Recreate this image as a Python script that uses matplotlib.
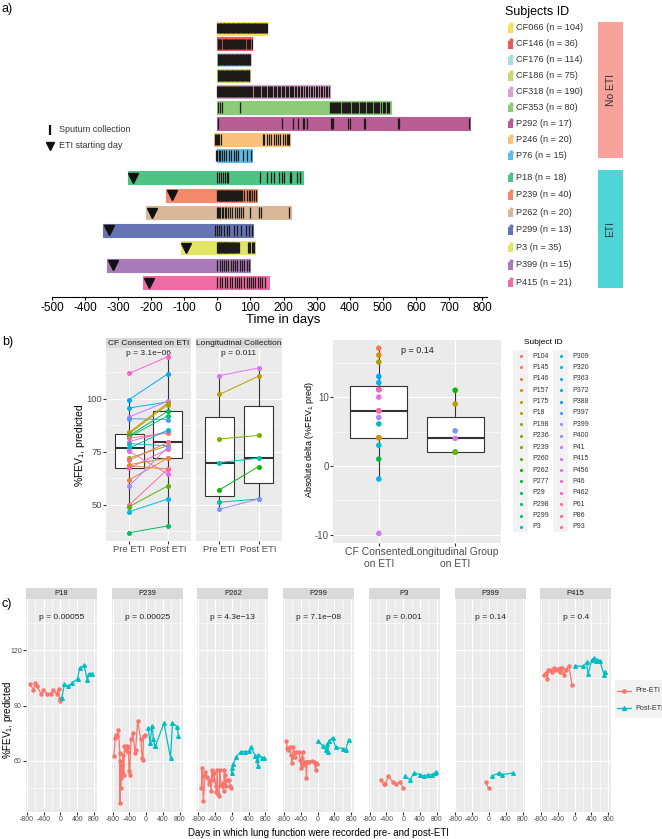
import numpy as np
import matplotlib
matplotlib.use("Agg")
import matplotlib.pyplot as plt
from matplotlib.patches import Rectangle

plt.rcParams['font.family'] = ['Liberation Sans', 'DejaVu Sans']
plt.rcParams['mathtext.fontset'] = 'custom'
plt.rcParams['mathtext.rm'] = 'Liberation Sans'
plt.rcParams['mathtext.it'] = 'Liberation Sans'
plt.rcParams['axes.unicode_minus'] = False

#---- panel a data
a_ids = ['CF066', 'CF146', 'CF176', 'CF186', 'CF318', 'CF353', 'P292', 'P246', 'P76',
         'P18', 'P239', 'P262', 'P299', 'P3', 'P399', 'P415']
a_n = [104, 36, 114, 75, 190, 80, 17, 20, 15, 18, 40, 20, 13, 35, 15, 21]
a_start = [0, 0, 0, 0, 0, 0, 0, -10, 0, -270, -155, -215, -345, -109, -333, -225]
a_end = [150, 105, 100, 98, 340, 525, 765, 220, 105, 258, 121, 221, 109, 115, 100, 155]
a_eti = [None] * 9 + [-255, -136, -197, -327, -94, -315, -206]
a_colors = ['#F3DF5A', '#E9585B', '#A9DCE0', '#C9D96B', '#D9A3D2', '#8DCB79', '#B95D95',
            '#F9C27B', '#5CBDE8', '#4DC486', '#F48A6B', '#D8B897', '#6774B4', '#E3E664',
            '#A87BB8', '#F06CA5']
a_sputum = [
    [0, 2, 4, 7, 9, 11, 14, 16, 19, 21, 24, 26, 28, 31, 33, 36, 38, 41, 43, 46, 48, 51, 53, 56, 58,
     61, 63, 66, 68, 71, 74, 76, 79, 81, 84, 86, 89, 92, 94, 97, 99, 102, 105, 107, 110, 113, 115,
     118, 121, 124, 126, 129, 132, 135, 138, 141, 144, 147, 150],
    [1, 3, 6, 9, 12, 16, 19, 22, 25, 27, 30, 33, 36, 39, 42, 45, 48, 51, 54, 57, 60, 63, 66, 69, 72,
     75, 78, 81, 84, 88, 92, 96, 100, 104],
    [1, 3, 5, 8, 10, 12, 14, 16, 19, 21, 23, 25, 27, 30, 32, 34, 36, 38, 41, 43, 45, 47, 49, 52, 54,
     56, 58, 60, 63, 65, 67, 69, 71, 74, 76, 78, 80, 82, 85, 87, 89, 91, 93, 96, 98, 99],
    [1, 3, 5, 8, 10, 13, 15, 18, 20, 23, 25, 28, 30, 33, 35, 38, 40, 43, 45, 48, 50, 53, 55, 58, 60,
     63, 65, 68, 70, 73, 75, 78, 80, 83, 85, 88, 90, 93, 95, 97],
    [0, 3, 5, 8, 11, 14, 17, 20, 22, 25, 28, 31, 34, 37, 40, 43, 46, 49, 52, 55, 58, 61, 64, 67, 70,
     74, 77, 80, 83, 86, 90, 93, 96, 99, 103, 106, 110, 113, 116, 120, 123, 127, 130, 134, 137, 141,
     144, 148, 152, 155, 159, 163, 166, 170, 174, 178, 182, 186, 190, 194, 198, 202, 206, 210, 214,
     218, 222, 226, 230, 235, 239, 244, 248, 253, 257, 262, 267, 272, 277, 282, 287, 292, 297, 302,
     307, 312, 317, 322, 327, 332, 337],
    [3, 7, 14, 68, 340, 343, 346, 349, 352, 356, 359, 362, 366, 369, 372, 376, 379, 382, 386, 389,
     392, 396, 399, 402, 406, 409, 412, 416, 419, 423, 426, 430, 433, 437, 440, 444, 447, 451, 454,
     458, 461, 465, 468, 472, 475, 479, 482, 486, 490, 494, 500, 504, 508, 512, 516, 520],
    [2, 196, 229, 243, 258, 262, 272, 342, 346, 350, 395, 401, 442, 447, 545, 550, 762],
    [-8, -5, -2, 2, 6, 10, 138, 142, 150, 156, 163, 170, 176, 184, 190, 197, 204, 210, 214, 217],
    [-4, 0, 4, 9, 13, 21, 26, 34, 42, 49, 55, 61, 78, 90, 102],
    [0, 5, 10, 16, 22, 28, 33, 130, 150, 163, 172, 185, 195, 200, 218, 222, 240, 250],
    [0, 2, 4, 6, 8, 10, 12, 14, 16, 18, 20, 22, 25, 27, 29, 31, 33, 36, 38, 40, 43, 45, 48, 50, 52,
     55, 57, 60, 62, 65, 67, 70, 75, 80, 88, 95, 100, 106, 112, 118],
    [0, 2, 4, 8, 13, 18, 22, 27, 32, 37, 44, 52, 58, 64, 72, 78, 98, 125, 133, 215],
    [-6, -1, 5, 11, 21, 29, 36, 50, 60, 70, 85, 95, 105],
    [0, 2, 4, 6, 8, 10, 12, 14, 17, 19, 21, 23, 25, 27, 29, 31, 34, 36, 38, 41, 43, 46, 48, 51, 53,
     56, 58, 61, 64, 93, 96, 99, 106, 109, 112],
    [0, 7, 14, 20, 27, 33, 40, 47, 53, 60, 67, 73, 80, 88, 97],
    [0, 8, 14, 22, 30, 37, 45, 52, 58, 65, 72, 80, 88, 95, 102, 108, 115, 122, 128, 135, 145],
]

#---- panel b data
b_subjects = ['P104', 'P145', 'P146', 'P157', 'P175', 'P18', 'P198', 'P236', 'P239', 'P260',
              'P262', 'P277', 'P29', 'P298', 'P299', 'P3', 'P309', 'P320', 'P363', 'P372',
              'P388', 'P397', 'P399', 'P400', 'P41', 'P415', 'P456', 'P46', 'P462', 'P61',
              'P86', 'P93']
cf_subj = ['P462', 'P388', 'P372', 'P41', 'P397', 'P175', 'P198', 'P277', 'P298', 'P104',
           'P46', 'P320', 'P309', 'P456', 'P236', 'P157', 'P146', 'P61', 'P145', 'P400',
           'P86', 'P260', 'P363', 'P29', 'P93']
cf_pre = [112.0, 99.7, 95.7, 91.5, 90.7, 84.2, 83.6, 82.6, 82.0, 81.5, 79.9, 78.9, 76.8, 75.2,
          72.1, 69.0, 68.5, 67.3, 61.8, 59.0, 50.0, 49.2, 46.8, 36.9, 71.0]
cf_post = [119.9, 111.8, 98.6, 98.9, 90.2, 98.1, 97.3, 94.2, 92.1, 83.9, 84.7, 77.9, 85.3, 64.6,
           77.9, 72.1, 66.9, 76.3, 72.1, 77.2, 66.9, 59.0, 52.8, 40.1, 79.5]
lo_subj = ['P415', 'P18', 'P239', 'P3', 'P262', 'P299', 'P399']
lo_pre = [111.0, 102.1, 81.1, 70.0, 57.1, 51.3, 48.0]
lo_post = [114.6, 110.7, 82.8, 72.1, 68.1, 52.8, 52.8]

d_cf_subj = ['P145', 'P157', 'P198', 'P388', 'P372', 'P462', 'P104', 'P61', 'P456', 'P46', 'P86',
             'P400', 'P309', 'P93', 'P175', 'P320', 'P277', 'P363', 'P41']
d_cf = [17.1, 16.1, 15.1, 13.0, 12.1, 11.1, 11.1, 11.1, 10.0, 8.0, 8.0, 7.05, 6.1, 4.1, 4.1,
        3.0, 1.0, -1.9, -9.8]
d_lo_subj = ['P262', 'P18', 'P399', 'P415', 'P299', 'P3', 'P239']
d_lo = [11.0, 9.0, 5.1, 4.0, 2.0, 2.0, 2.0]

#---- panel c data
c_ids = ['P18', 'P239', 'P262', 'P299', 'P3', 'P399', 'P415']
c_p = ['p = 0.00055', 'p = 0.00025', 'p = 4.3e\u221213', 'p = 7.1e\u221208', 'p = 0.001',
       'p = 0.14', 'p = 0.4']
c_pre_day = [
    [-721, -643, -596, -549, -470, -408, -314, -235, -172, -94, -40, -20, -8, 0],
    [-768, -737, -721, -690, -659, -627, -620, -612, -604, -596, -588, -580, -564, -549, -533,
     -517, -486, -455, -439, -423, -408, -392, -361, -314, -267, -251, -204, -125, -94, -78, -63, -16],
    [-725, -710, -694, -679, -632, -585, -554, -523, -491, -476, -460, -429, -382, -367, -351,
     -335, -304, -289, -257, -242, -211, -195, -179, -164, -148, -117, -70, -39, -23],
    [-740, -722, -704, -667, -631, -612, -594, -576, -539, -503, -448, -411, -393, -375, -356,
     -338, -320, -283, -265, -247, -192, -137, -82, -46, -27, -9],
    [-521, -468, -430, -355, -242, -166, -68, -8],
    [-80, -10],
    [-722, -686, -649, -631, -576, -539, -503, -466, -430, -393, -356, -338, -302, -265, -210,
     -137, -64],
]
c_pre_val = [
    [101.5, 98.7, 102.4, 100.5, 96.5, 98.4, 96.5, 96.5, 98.4, 96.5, 99.1, 93.6, 92.2, 93.3],
    [62.4, 72.2, 74.2, 73.3, 76.5, 64.2, 37.1, 59.6, 45.1, 56.0, 50.5, 57.8, 53.3, 63.3, 52.4,
     68.2, 66.0, 67.8, 64.5, 67.5, 54.5, 52.4, 71.5, 75.1, 64.2, 66.0, 81.5, 71.5, 61.5, 60.2, 73.6, 74.2],
    [45.1, 56.0, 51.5, 38.0, 53.6, 51.1, 47.5, 49.6, 43.3, 55.1, 49.6, 53.3, 46.0, 43.1, 55.1,
     42.0, 40.5, 55.1, 46.9, 46.0, 47.8, 43.3, 55.1, 52.4, 46.0, 49.6, 49.6, 46.0, 45.1],
    [70.4, 66.7, 65.8, 67.6, 63.1, 58.5, 62.2, 67.3, 62.2, 64.9, 64.9, 60.4, 55.8, 61.3, 64.9,
     57.6, 59.5, 59.5, 50.4, 59.5, 59.5, 60.0, 59.5, 54.9, 58.5, 58.2],
    [49.3, 47.3, 47.1, 51.5, 48.2, 47.1, 48.5, 45.3],
    [48.2, 45.1],
    [106.7, 107.6, 104.4, 109.5, 109.5, 108.5, 110.4, 109.5, 109.8, 109.1, 110.4, 108.0, 110.4,
     106.5, 109.5, 111.6, 101.3],
]
c_post_day = [
    [31, 94, 188, 282, 408, 455, 564, 643, 674, 753],
    [47, 94, 141, 172, 204, 220, 423, 580, 627, 737, 768],
    [-8, 8, 39, 101, 211, 304, 413, 445, 554, 601, 616, 632, 726, 772],
    [9, 137, 192, 228, 247, 265, 356, 430, 612, 667, 740],
    [38, 166, 257, 400, 498, 589, 680, 755, 785],
    [75, 230, 320, 580],
    [9, 210, 283, 320, 411, 466, 503, 539, 594, 704, 722],
]
c_post_val = [
    [94.2, 101.5, 100.5, 102.4, 104.5, 110.5, 111.8, 103.8, 107.4, 107.4],
    [77.6, 69.6, 79.1, 71.5, 68.2, 67.8, 80.5, 61.5, 80.5, 78.4, 73.3],
    [53.3, 56.0, 58.4, 62.0, 64.9, 64.9, 65.1, 67.6, 62.7, 60.5, 57.3, 63.3, 61.5, 61.3],
    [70.4, 68.0, 65.8, 69.1, 64.9, 70.4, 72.5, 67.3, 66.5, 65.8, 71.3],
    [51.5, 49.6, 53.3, 52.4, 51.5, 52.4, 52.4, 53.3, 53.6],
    [51.5, 53.3, 52.4, 53.3],
    [111.6, 111.3, 113.5, 107.3, 114.9, 115.8, 114.0, 114.9, 114.5, 106.7, 108.5],
]


def hue_pal(n, l=65, c=100):
    # ggplot2 default discrete palette (HCL -> sRGB)
    xn, yn, zn = 95.047, 100.0, 108.883
    un = 4 * xn / (xn + 15 * yn + 3 * zn)
    vn = 9 * yn / (xn + 15 * yn + 3 * zn)
    out = []
    for h in np.linspace(15, 375, n + 1)[:-1]:
        u = c * np.cos(np.radians(h))
        v = c * np.sin(np.radians(h))
        Y = yn * ((l + 16) / 116) ** 3
        up = u / (13 * l) + un
        vp = v / (13 * l) + vn
        X = 9 * Y * up / (4 * vp)
        Z = -X / 3 - 5 * Y + 3 * Y / vp
        X, Y, Z = X / 100, Y / 100, Z / 100
        rgb = [3.240479 * X - 1.537150 * Y - 0.498535 * Z,
               -0.969256 * X + 1.875992 * Y + 0.041556 * Z,
               0.055648 * X - 0.204043 * Y + 1.057311 * Z]
        rgb = [12.92 * t if t <= 0.0031308 else 1.055 * t ** (1 / 2.4) - 0.055 for t in rgb]
        out.append(tuple(min(max(t, 0), 1) for t in rgb))
    return out


pal = dict(zip(b_subjects, hue_pal(len(b_subjects))))

W, H = 662, 839
fig = plt.figure(figsize=(W / 100, H / 100), dpi=100)


def px_axes(l, t, r, b):
    return fig.add_axes([l / W, 1 - b / H, (r - l) / W, (b - t) / H])


def gg(ax, ylabels=True):
    ax.set_facecolor('#EBEBEB')
    for s in ax.spines.values():
        s.set_visible(False)
    ax.grid(True, which='major', color='white', lw=0.8)
    ax.grid(True, which='minor', color='white', lw=0.4)
    ax.set_axisbelow(True)
    ax.tick_params(which='major', length=2, color='#333333', labelcolor='#4D4D4D', pad=1)
    ax.tick_params(which='minor', length=0)
    if not ylabels:
        ax.tick_params(axis='y', labelleft=False, length=0)


ov = fig.add_axes([0, 0, 1, 1])
ov.set_xlim(0, W)
ov.set_ylim(H, 0)
ov.axis('off')
ov.set_zorder(5)

#---- a) timeline
ax = px_axes(52, 18, 487, 297)
ypos = [i if i < 9 else 9.4 + (i - 9) * 1.1 for i in range(len(a_ids))]
for i, y in enumerate(ypos):
    ax.add_patch(Rectangle((a_start[i], y - 0.41), a_end[i] - a_start[i], 0.82,
                           fc=a_colors[i], ec=a_colors[i], lw=0.8))
    ax.vlines(a_sputum[i], y - 0.34, y + 0.34, color='#1E1A18', lw=0.9)
    if a_eti[i] is not None:
        ax.plot(a_eti[i], y, marker='v', color='#111111', ms=6.5, ls='none')
ax.set_xlim(-500, 815)
ax.set_ylim(16.9, -0.63)
for s in ['top', 'left', 'right']:
    ax.spines[s].set_visible(False)
ax.spines['bottom'].set_linewidth(0.8)
ax.set_xticks(range(-500, 801, 100))
ax.set_yticks([])
ax.tick_params(axis='x', labelsize=8.5, length=2.5, width=0.8, pad=0.8)
ov.text(283, 320, 'Time in days', fontsize=9.5, ha='center', va='center')

# legend of panel a
ov.text(505, 12, 'Subjects ID', fontsize=9, va='center')
for i, y in enumerate(ypos):
    yy = 28 + y * 15.9
    ov.plot(510.5, yy - 3.6, 'o', color=a_colors[i], ms=3, mec='none')
    ov.add_patch(Rectangle((508.3, yy - 2.6), 4.4, 7.5, fc=a_colors[i], ec='none'))
    ov.text(516, yy, '%s (n = %d)' % (a_ids[i], a_n[i]), fontsize=6.6, va='center', color='#333333')
ov.add_patch(Rectangle((598, 22), 25, 136, fc='#F9A29B', ec='none'))
ov.text(610.5, 90, 'No ETI', rotation=90, ha='center', va='center', fontsize=7.5, color='#333333')
ov.add_patch(Rectangle((598, 170), 25, 118, fc='#4ED5D6', ec='none'))
ov.text(610.5, 229, 'ETI', rotation=90, ha='center', va='center', fontsize=7.5, color='#333333')

ov.plot(50, 130, marker='|', color='#111111', ms=7, mew=1.6)
ov.text(59, 129, 'Sputum collection', fontsize=6.5, va='center', color='#333333')
ov.plot(50, 146, marker='v', color='#111111', ms=6)
ov.text(59, 146, 'ETI starting day', fontsize=6.5, va='center', color='#333333')

#---- b) paired FEV1
facets = [(106, 191, 'CF Consented on ETI', cf_pre, cf_post, cf_subj, 'p = 3.1e\u221206'),
          (196, 282, 'Longitudinal Collection', lo_pre, lo_post, lo_subj, 'p = 0.011')]
for k, (l, r, title, pre, post, subj, ptxt) in enumerate(facets):
    bx = px_axes(l, 348, r, 541)
    gg(bx, ylabels=(k == 0))
    bx.boxplot([pre, post], positions=[1, 2], widths=0.75, showfliers=False, showcaps=False,
               patch_artist=True,
               boxprops=dict(facecolor='white', edgecolor='#333333', lw=0.8),
               medianprops=dict(color='#333333', lw=1.5),
               whiskerprops=dict(color='#333333', lw=0.8))
    for a, b, s in zip(pre, post, subj):
        bx.plot([1, 2], [a, b], color=pal[s], lw=0.7, marker='o', ms=2.6, zorder=4)
    bx.set_xlim(0.4, 2.6)
    bx.set_ylim(33, 124)
    bx.set_xticks([1, 2])
    bx.set_xticklabels(['Pre ETI', 'Post ETI'])
    bx.set_yticks([50, 75, 100])
    bx.set_yticks([37.5, 62.5, 87.5, 112.5], minor=True)
    bx.tick_params(labelsize=6.8)
    bx.text(1.5, 121.5, ptxt, ha='center', va='center', fontsize=6, color='#222222')
    ov.add_patch(Rectangle((l, 338), r - l, 10, fc='#D9D9D9', ec='none'))
    ov.text((l + r) / 2, 343.3, title, ha='center', va='center', fontsize=6, color='#1A1A1A')
ov.text(80, 445, '%FEV$_1$, predicted', rotation=90, ha='center', va='center', fontsize=7.5)

# delta panel
dx = px_axes(333, 340, 501, 543)
gg(dx)
dx.boxplot([d_cf, d_lo], positions=[1, 2], widths=0.75, showfliers=False, showcaps=False,
           patch_artist=True,
           boxprops=dict(facecolor='white', edgecolor='#333333', lw=0.8),
           medianprops=dict(color='#333333', lw=1.5),
           whiskerprops=dict(color='#333333', lw=0.8))
dx.scatter([1] * len(d_cf), d_cf, c=[pal[s] for s in d_cf_subj], s=9, zorder=4)
dx.scatter([2] * len(d_lo), d_lo, c=[pal[s] for s in d_lo_subj], s=9, zorder=4)
dx.set_xlim(0.4, 2.6)
dx.set_ylim(-11.2, 18.3)
dx.set_xticks([1, 2])
dx.set_xticklabels(['CF Consented\non ETI', 'Longitudinal Group\non ETI'], fontsize=7.5)
dx.set_yticks([-10, 0, 10])
dx.set_yticks([-5, 5, 15], minor=True)
dx.tick_params(axis='y', labelsize=7)
dx.text(1.5, 16.8, 'p = 0.14', ha='center', va='center', fontsize=6.5, color='#222222')
ov.text(309, 440, 'Absolute delta (%FEV$_1$ pred)', rotation=90, ha='center', va='center', fontsize=6.5)

# legend of panel b
ov.text(543, 342, 'Subject ID', ha='center', va='center', fontsize=6)
half = len(b_subjects) // 2
for col in range(2):
    x0 = 513 + col * 40
    ov.add_patch(Rectangle((x0, 350), 15, 182, fc='#F2F2F2', ec='none'))
    for j in range(half):
        s = b_subjects[col * half + j]
        yy = 356 + j * 11.4
        ov.plot(x0 + 7.5, yy, 'o', color=pal[s], ms=2.3, mec='none')
        ov.text(x0 + 19, yy, s, fontsize=5, va='center', color='#333333')

#---- c) lung function over time
pre_col, post_col = '#F8766D', '#00BFC4'
for k, sid in enumerate(c_ids):
    l = 26 + k * 85.7
    cx = px_axes(l, 599, l + 71, 812)
    gg(cx, ylabels=(k == 0))
    cx.plot(c_pre_day[k], c_pre_val[k], color=pre_col, lw=0.9, marker='o', ms=2.2, mec=pre_col)
    cx.plot(c_post_day[k], c_post_val[k], color=post_col, lw=0.9, marker='^', ms=2.6, mec=post_col)
    cx.set_xlim(-820, 870)
    cx.set_ylim(32, 148)
    cx.set_xticks([-800, -400, 0, 400, 800])
    cx.set_xticks([-600, -200, 200, 600], minor=True)
    cx.set_yticks([60, 90, 120])
    cx.set_yticks([45, 75, 105, 135], minor=True)
    cx.tick_params(labelsize=5)
    cx.text(25, 138, c_p[k], ha='center', va='center', fontsize=6, color='#222222')
    ov.add_patch(Rectangle((l, 588), 71, 11, fc='#D9D9D9', ec='none'))
    ov.text(l + 35.5, 593.7, sid, ha='center', va='center', fontsize=5.5, color='#1A1A1A')
ov.text(8, 720, '%FEV$_1$, predicted', rotation=90, ha='center', va='center', fontsize=7)
ov.text(318, 833, 'Days in which lung function were recorded pre- and post-ETI',
        ha='center', va='center', fontsize=7)

ov.add_patch(Rectangle((615, 680), 47, 38, fc='#F2F2F2', ec='none'))
ov.plot([617, 631], [691, 691], color=pre_col, lw=0.9)
ov.plot(624, 691, 'o', color=pre_col, ms=2.4)
ov.text(635, 691, 'Pre-ETI', fontsize=5.2, va='center', color='#333333')
ov.plot([617, 631], [708, 708], color=post_col, lw=0.9)
ov.plot(624, 708, '^', color=post_col, ms=2.8)
ov.text(635, 708, 'Post-ETI', fontsize=5.2, va='center', color='#333333')

# panel letters
ov.text(2, 9, 'a)', fontsize=9, va='center')
ov.text(2, 342, 'b)', fontsize=9, va='center')
ov.text(2, 604, 'c)', fontsize=9, va='center')

fig.savefig('out.png', dpi=100)
